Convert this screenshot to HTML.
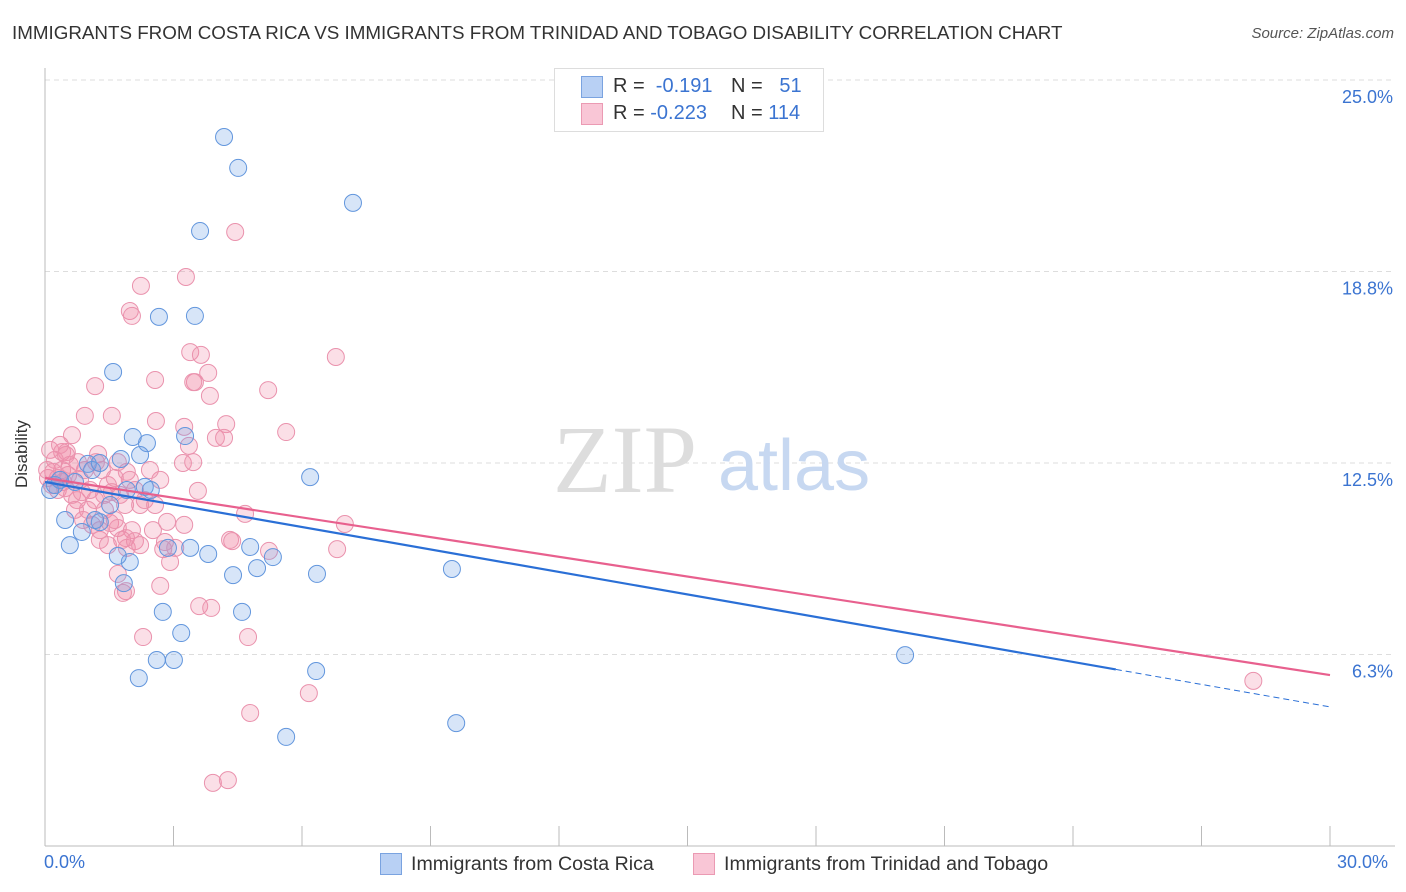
<!DOCTYPE html>
<html><head><meta charset="utf-8"><style>
body{margin:0;background:#fff;font-family:"Liberation Sans",sans-serif;}
#wrap{position:relative;width:1406px;height:892px;overflow:hidden;}
.t{position:absolute;white-space:nowrap;}
</style></head><body>
<div id="wrap">
<div class="t" style="left:12px;top:22px;font-size:18.8px;color:#333;">IMMIGRANTS FROM COSTA RICA VS IMMIGRANTS FROM TRINIDAD AND TOBAGO DISABILITY CORRELATION CHART</div>
<div class="t" style="right:12px;top:25px;font-size:15px;color:#555;font-style:italic;">Source: ZipAtlas.com</div>
<svg id="svg" width="1406" height="892" style="position:absolute;left:0;top:0"></svg>
</div>
<script>
const yTicks=[25,18.75,12.5,6.25];
const yTickLabels=["25.0%","18.8%","12.5%","6.3%"];
const blueX=[4.18,4.51,7.19,3.62,2.66,3.50,1.59,2.05,2.38,3.27,1.77,1.00,6.19,2.33,2.47,0.47,1.28,0.86,0.58,4.79,3.39,2.87,3.81,5.32,4.95,1.98,1.70,4.39,6.35,9.50,1.84,2.75,4.60,3.18,2.61,3.01,2.19,6.33,20.08,9.60,5.63,0.12,0.23,0.35,0.70,1.10,1.28,2.22,1.91,1.52,1.17];
const blueY=[23.14,22.13,20.99,20.07,17.27,17.30,15.47,13.35,13.15,13.38,12.63,12.47,12.04,11.72,11.62,10.64,10.57,10.25,9.82,9.76,9.73,9.73,9.53,9.43,9.07,9.27,9.47,8.84,8.88,9.04,8.58,7.64,7.64,6.95,6.07,6.07,5.48,5.71,6.23,4.01,3.56,11.62,11.78,11.95,11.88,12.27,12.50,12.76,11.62,11.13,10.64];
const pinkX=[4.44,3.29,2.24,1.98,2.03,3.39,3.64,6.79,3.50,3.46,3.81,2.57,1.17,5.21,3.85,0.93,1.56,2.59,4.23,3.25,5.63,0.63,3.99,4.18,3.36,0.40,0.51,1.24,3.22,3.46,1.91,2.69,3.57,0.75,1.38,1.98,4.67,7.00,2.85,3.25,0.89,1.52,1.70,2.03,1.89,2.52,1.91,1.28,2.80,2.76,2.10,4.32,4.37,5.23,6.82,2.92,1.70,2.69,1.89,1.82,3.60,3.88,2.29,4.74,6.16,4.79,3.92,4.27,28.21,0.12,0.23,0.40,0.54,0.07,0.16,0.30,0.47,0.63,0.82,0.93,1.05,1.17,1.33,1.47,1.63,1.75,1.87,1.40,1.00,0.70,0.58,0.35,0.49,0.77,1.19,1.56,2.10,2.33,2.45,1.28,1.10,2.22,1.63,1.80,1.47,2.57,0.86,0.30,0.05,0.19,0.42,2.22,3.04,1.70];
const pinkY=[20.04,18.57,18.28,17.46,17.30,16.12,16.03,15.96,15.14,15.14,15.44,15.21,15.01,14.88,14.69,14.04,14.04,13.87,13.77,13.68,13.51,13.41,13.32,13.32,13.06,12.86,12.86,12.79,12.50,12.53,12.21,11.95,11.59,11.29,11.46,11.95,10.84,10.51,10.58,10.48,10.64,10.54,10.38,10.31,10.05,10.31,9.73,9.99,9.92,9.69,9.95,9.99,9.95,9.63,9.69,9.27,8.88,8.49,8.32,8.26,7.83,7.77,6.82,6.82,4.99,4.34,2.06,2.15,5.39,12.93,12.60,12.27,12.11,12.01,11.78,11.62,11.68,11.46,11.95,12.27,11.62,11.29,12.27,11.78,12.01,11.46,11.13,10.97,10.97,10.97,12.44,13.09,12.76,12.53,12.53,11.55,11.62,11.29,12.27,10.31,10.48,9.82,10.64,9.99,9.82,11.13,11.55,12.01,12.27,12.21,11.88,11.13,9.73,12.53];
const blueTrend=[11.88,4.54];
const pinkTrend=[12.01,5.58];
const NS="http://www.w3.org/2000/svg";
const svg=document.getElementById('svg');
const X0=45,X1=1330,Y0=846,YS=30.64;
function sx(v){return X0+(v/30)*(X1-X0);}
function sy(v){return Y0-v*YS;}
function mk(tag,attrs){const e=document.createElementNS(NS,tag);for(const k in attrs)e.setAttribute(k,attrs[k]);svg.appendChild(e);return e;}
yTicks.forEach((t,i)=>{
 const g=mk('line',{x1:X0,x2:1395,y1:sy(t),y2:sy(t),stroke:'#ddd','stroke-dasharray':'5,4'});
 
 
 const l=mk('text',{x:1393,y:sy(t)+23,'text-anchor':'end','font-size':18,fill:'#3b74d1','font-family':'Liberation Sans'});
 l.textContent=yTickLabels[i];
 
 
});
const ax=mk('line',{x1:X0,x2:X0,y1:68,y2:846,stroke:'#bbb'});


const bx=mk('line',{x1:X0,x2:1395,y1:846,y2:846,stroke:'#bbb'});


for(let i=0;i<=10;i++){
 const tk=mk('line',{x1:sx(i*3),x2:sx(i*3),y1:826,y2:846,stroke:'#bbb'});
 
 
}
const wm1=mk('text',{x:553,y:492,'font-size':96,fill:'#ddd','font-family':'Liberation Serif'});wm1.textContent='ZIP';


const wm2=mk('text',{x:718,y:490,'font-size':72,fill:'#c7d8f1','font-family':'Liberation Sans'});wm2.textContent='atlas';


function dots(xs,ys,fill,stroke,name){
 xs.forEach((v,i)=>{const c=mk('circle',{cx:sx(v),cy:sy(ys[i]),r:8.5,fill:fill,stroke:stroke,'stroke-width':1});
 
 });
}
dots(pinkX,pinkY,'rgba(240,140,170,0.28)','#ea92ad','pink-point');
dots(blueX,blueY,'rgba(110,160,230,0.28)','#6296dd','blue-point');
function lineAt(tr,x){return tr[0]+(tr[1]-tr[0])*x/30;}
const bl=mk('line',{x1:sx(0),y1:sy(lineAt(blueTrend,0)),x2:sx(25),y2:sy(lineAt(blueTrend,25)),stroke:'#2a6fd6','stroke-width':2.2});


const bd=mk('line',{x1:sx(25),y1:sy(lineAt(blueTrend,25)),x2:sx(30),y2:sy(lineAt(blueTrend,30)),stroke:'#2a6fd6','stroke-width':1,'stroke-dasharray':'6,4'});


const pl=mk('line',{x1:sx(0),y1:sy(lineAt(pinkTrend,0)),x2:sx(30),y2:sy(lineAt(pinkTrend,30)),stroke:'#e8608e','stroke-width':2.2});


</script>
<div class="t" style="left:-12px;top:444px;font-size:17px;color:#333;transform:rotate(-90deg);">Disability</div>
<div class="t" style="left:44px;top:852px;font-size:18px;color:#3b74d1;">0.0%</div>
<div class="t" style="left:1337px;top:852px;font-size:18px;color:#3b74d1;">30.0%</div>
<div style="position:absolute;left:554px;top:68px;width:268px;height:62px;border:1px solid #ddd;background:#fff;font-size:20px;color:#333;">
 <div style="position:absolute;left:26px;top:7px;width:20px;height:20px;background:#b8d0f4;border:1px solid #7aa3e0;"></div>
 <div class="t" style="left:58px;top:6px;">R = <span style="color:#3b74d1">&nbsp;-0.191</span></div>
 <div class="t" style="left:176px;top:6px;">N = <span style="color:#3b74d1">&nbsp;&nbsp;51</span></div>
 <div style="position:absolute;left:26px;top:34px;width:20px;height:20px;background:#f9c6d6;border:1px solid #eb9ab3;"></div>
 <div class="t" style="left:58px;top:33px;">R = <span style="color:#3b74d1">-0.223</span></div>
 <div class="t" style="left:176px;top:33px;">N = <span style="color:#3b74d1">114</span></div>
</div>
<div style="position:absolute;left:380px;top:853px;">
 <div style="position:absolute;left:0;top:0;width:20px;height:20px;background:#b8d0f4;border:1px solid #7aa3e0;"></div>
 <div class="t" style="left:31px;top:0;font-size:19.6px;color:#333;">Immigrants from Costa Rica</div>
</div>
<div style="position:absolute;left:693px;top:853px;">
 <div style="position:absolute;left:0;top:0;width:20px;height:20px;background:#f9c6d6;border:1px solid #eb9ab3;"></div>
 <div class="t" style="left:31px;top:0;font-size:19.6px;color:#333;">Immigrants from Trinidad and Tobago</div>
</div>
</body></html>
